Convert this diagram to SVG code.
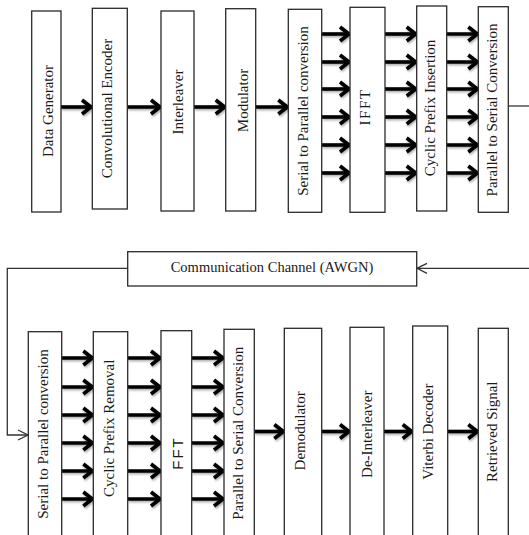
<svg xmlns="http://www.w3.org/2000/svg" width="529" height="535" viewBox="0 0 529 535">
<style>
.box{fill:#fff;stroke:#2a2a2a;stroke-width:1.3}
.t{font-family:"Liberation Serif","Times New Roman",serif;font-size:15px;fill:#1a1a1a;text-anchor:middle}
.s{font-family:"Liberation Sans",Arial,sans-serif;font-size:15px;fill:#1a1a1a;text-anchor:middle;letter-spacing:2px}
.a{stroke:#000;stroke-width:3.6;fill:none;marker-end:url(#ah)}
.th{stroke:#333;stroke-width:1.3;fill:none}
</style>
<defs>
<marker id="ah" markerUnits="userSpaceOnUse" markerWidth="16" markerHeight="20" viewBox="-14 -10 16 20" refX="0" refY="0" orient="auto">
<path d="M-10,-7 L-1,0 L-10,7" fill="none" stroke="#000" stroke-width="3.6" stroke-linejoin="miter"/>
</marker>
<marker id="oh" markerUnits="userSpaceOnUse" markerWidth="16" markerHeight="16" viewBox="-14 -8 16 16" refX="0" refY="0" orient="auto">
<path d="M-10,-5 L0,0 L-10,5" fill="none" stroke="#333" stroke-width="1.3"/>
</marker>
<filter id="sh" filterUnits="userSpaceOnUse" x="0" y="0" width="529" height="535">
<feDropShadow dx="1" dy="1.5" stdDeviation="1" flood-color="#000" flood-opacity="0.35"/>
</filter>
</defs>
<rect width="529" height="535" fill="#fff"/>

<g id="connectors">
<g filter="url(#sh)">
<line class="a" x1="61" y1="107" x2="92" y2="107"/>
<line class="a" x1="127.3" y1="107" x2="161" y2="107"/>
<line class="a" x1="194" y1="107" x2="225.7" y2="107"/>
<line class="a" x1="255.7" y1="107" x2="288.3" y2="107"/>
<line class="a" x1="321.7" y1="34" x2="350" y2="34"/>
<line class="a" x1="321.7" y1="62" x2="350" y2="62"/>
<line class="a" x1="321.7" y1="89" x2="350" y2="89"/>
<line class="a" x1="321.7" y1="117" x2="350" y2="117"/>
<line class="a" x1="321.7" y1="145" x2="350" y2="145"/>
<line class="a" x1="321.7" y1="173" x2="350" y2="173"/>
<line class="a" x1="385" y1="34" x2="416.7" y2="34"/>
<line class="a" x1="385" y1="62" x2="416.7" y2="62"/>
<line class="a" x1="385" y1="89" x2="416.7" y2="89"/>
<line class="a" x1="385" y1="117" x2="416.7" y2="117"/>
<line class="a" x1="385" y1="145" x2="416.7" y2="145"/>
<line class="a" x1="385" y1="173" x2="416.7" y2="173"/>
<line class="a" x1="446.7" y1="34" x2="478.3" y2="34"/>
<line class="a" x1="446.7" y1="62" x2="478.3" y2="62"/>
<line class="a" x1="446.7" y1="89" x2="478.3" y2="89"/>
<line class="a" x1="446.7" y1="117" x2="478.3" y2="117"/>
<line class="a" x1="446.7" y1="145" x2="478.3" y2="145"/>
<line class="a" x1="446.7" y1="173" x2="478.3" y2="173"/>
<line class="a" x1="61.7" y1="358" x2="93.3" y2="358"/>
<line class="a" x1="61.7" y1="387" x2="93.3" y2="387"/>
<line class="a" x1="61.7" y1="415" x2="93.3" y2="415"/>
<line class="a" x1="61.7" y1="443" x2="93.3" y2="443"/>
<line class="a" x1="61.7" y1="471" x2="93.3" y2="471"/>
<line class="a" x1="61.7" y1="499" x2="93.3" y2="499"/>
<line class="a" x1="127.7" y1="358" x2="161" y2="358"/>
<line class="a" x1="127.7" y1="387" x2="161" y2="387"/>
<line class="a" x1="127.7" y1="415" x2="161" y2="415"/>
<line class="a" x1="127.7" y1="443" x2="161" y2="443"/>
<line class="a" x1="127.7" y1="471" x2="161" y2="471"/>
<line class="a" x1="127.7" y1="499" x2="161" y2="499"/>
<line class="a" x1="191.7" y1="358" x2="224" y2="358"/>
<line class="a" x1="191.7" y1="387" x2="224" y2="387"/>
<line class="a" x1="191.7" y1="415" x2="224" y2="415"/>
<line class="a" x1="191.7" y1="443" x2="224" y2="443"/>
<line class="a" x1="191.7" y1="471" x2="224" y2="471"/>
<line class="a" x1="191.7" y1="499" x2="224" y2="499"/>
<line class="a" x1="254.3" y1="431.5" x2="284.3" y2="431.5"/>
<line class="a" x1="321.7" y1="431.5" x2="350" y2="431.5"/>
<line class="a" x1="384" y1="431.5" x2="412.7" y2="431.5"/>
<line class="a" x1="447.7" y1="431.5" x2="478.3" y2="431.5"/>
</g>
<line class="th" x1="508.3" y1="106" x2="529" y2="106"/>
<line class="th" x1="529" y1="268.3" x2="417" y2="268.3" marker-end="url(#oh)"/>
<polyline class="th" points="127.7,268.3 7.3,268.3 7.3,435 28,435" marker-end="url(#oh)"/>
</g>

<g id="data-generator"><rect class="box" x="31.7" y="11" width="29.3" height="201"/><text class="t" transform="translate(53,111) rotate(-90)">Data Generator</text></g>
<g id="conv-encoder"><rect class="box" x="92.3" y="8.3" width="35" height="200.7"/><text class="t" transform="translate(112,108.5) rotate(-90)">Convolutional Encoder</text></g>
<g id="interleaver"><rect class="box" x="161" y="11" width="33" height="200"/><text class="t" transform="translate(182.5,102) rotate(-90)">Interleaver</text></g>
<g id="modulator"><rect class="box" x="225.7" y="8.7" width="30" height="202.3"/><text class="t" transform="translate(247.5,100.5) rotate(-90)">Modulator</text></g>
<g id="sp-tx"><rect class="box" x="288.3" y="9.3" width="33.4" height="203"/><text class="t" transform="translate(307.5,111) rotate(-90)">Serial to Parallel conversion</text></g>
<g id="ifft"><rect class="box" x="350" y="7.3" width="35" height="205"/><text class="t" style="letter-spacing:1.5px" transform="translate(370,107) rotate(-90)">IFFT</text></g>
<g id="cp-insertion"><rect class="box" x="416.7" y="6" width="30" height="205"/><text class="t" transform="translate(435,108) rotate(-90)">Cyclic Prefix Insertion</text></g>
<g id="ps-tx"><rect class="box" x="478.3" y="6.7" width="30" height="205.6"/><text class="t" transform="translate(496.5,110) rotate(-90)">Parallel to Serial Conversion</text></g>

<g id="channel"><rect class="box" x="127.7" y="251.7" width="289" height="34.3"/><text class="t" style="font-size:14.5px" x="272" y="271.5">Communication Channel (AWGN)</text></g>

<g id="sp-rx"><rect class="box" x="28.3" y="331.7" width="33.4" height="210"/><text class="t" transform="translate(48,434) rotate(-90)">Serial to Parallel conversion</text></g>
<g id="cp-removal"><rect class="box" x="93.3" y="331.7" width="34.4" height="210"/><text class="t" transform="translate(114,428.3) rotate(-90)">Cyclic Prefix Removal</text></g>
<g id="fft"><rect class="box" x="161" y="330.7" width="30.7" height="210"/><text class="s" transform="translate(183,453) rotate(-90)">FFT</text></g>
<g id="ps-rx"><rect class="box" x="224" y="329.3" width="30.3" height="210"/><text class="t" transform="translate(243,433.3) rotate(-90)">Parallel to Serial Conversion</text></g>
<g id="demodulator"><rect class="box" x="284.3" y="328.3" width="37.4" height="210"/><text class="t" transform="translate(305,430.8) rotate(-90)">Demodulator</text></g>
<g id="de-interleaver"><rect class="box" x="350" y="327.3" width="34" height="210"/><text class="t" transform="translate(371.5,434.2) rotate(-90)">De-Interleaver</text></g>
<g id="viterbi"><rect class="box" x="412.7" y="326" width="35" height="210"/><text class="t" transform="translate(433,431.7) rotate(-90)">Viterbi Decoder</text></g>
<g id="retrieved"><rect class="box" x="478.3" y="328.3" width="30" height="210"/><text class="t" transform="translate(497,431.7) rotate(-90)">Retrieved Signal</text></g>
</svg>
